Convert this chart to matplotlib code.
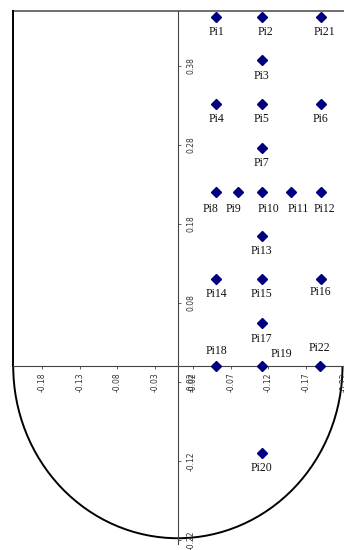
import numpy as np
import matplotlib.pyplot as plt
from matplotlib.patches import Arc

# point names and coordinates
names = ['Pi1', 'Pi2', 'Pi21', 'Pi3', 'Pi4', 'Pi5', 'Pi6', 'Pi7',
         'Pi8', 'Pi9', 'Pi10', 'Pi11', 'Pi12', 'Pi13', 'Pi14', 'Pi15',
         'Pi16', 'Pi17', 'Pi18', 'Pi19', 'Pi22', 'Pi20']
xs = [0.051, 0.111, 0.189, 0.111, 0.051, 0.111, 0.189, 0.111,
      0.051, 0.079, 0.111, 0.150, 0.189, 0.111, 0.051, 0.111,
      0.189, 0.111, 0.051, 0.111, 0.188, 0.111]
ys = [0.442, 0.442, 0.442, 0.387, 0.332, 0.332, 0.332, 0.276,
      0.220, 0.220, 0.220, 0.220, 0.220, 0.165, 0.110, 0.110,
      0.110, 0.054, 0.0, 0.0, 0.0, -0.110]

yticks = [0.38, 0.28, 0.18, 0.08, -0.02, -0.12, -0.22]
ytick_labels = ['0.38', '0.28', '0.18', '0.08', '-0.02', '-0.12', '-0.22']
xticks = [-0.18, -0.13, -0.08, -0.03, 0.02, 0.07, 0.12, 0.17, 0.22]
xtick_labels = ['-0.18', '-0.13', '-0.08', '-0.03',
                '-0.02', '-0.07', '-0.12', '-0.17', '-0.22']

radius = 0.218
top = 0.45

# label offsets in points (default: below the marker)
offsets = {'Pi18': (0, 11), 'Pi19': (14, 9), 'Pi22': (0, 13),
           'Pi8': (-4, -12), 'Pi9': (-3, -12), 'Pi10': (5, -12),
           'Pi11': (5, -12), 'Pi12': (3, -12), 'Pi2': (3, -11),
           'Pi21': (3, -11), 'Pi16': (0, -9.5)}

fig = plt.figure(figsize=(3.44, 5.5), dpi=100)
ax = fig.add_axes([0, 0, 1, 1])
ax.set_xlim(-0.2355, 0.2171)
ax.set_ylim(-0.2329, 0.4633)

# frame: rectangle top + semicircle bottom
ax.plot([-radius, 0.25], [top, top], color='#555555', lw=1.2)
ax.plot([-radius, -radius], [top, 0], color='black', lw=1.4)
ax.add_patch(Arc((0, 0), 2 * radius, 2 * radius, theta1=180, theta2=360,
                 color='black', lw=1.4))

ax.plot(xs, ys, 'D', color='#000080', ms=5.5, zorder=5)
for n, x, y in zip(names, xs, ys):
    dx, dy = offsets.get(n, (0, -11))
    ax.annotate(n, (x, y), xytext=(dx, dy), textcoords='offset points',
                ha='center', va='center', fontsize=8.5,
                family='Liberation Serif', color='#111111')

# axes through the origin
for s in ['top', 'left']:
    ax.spines[s].set_visible(False)
ax.spines['right'].set_position(('data', 0))
ax.spines['bottom'].set_position(('data', 0))
ax.spines['right'].set_bounds(-0.225, top)
ax.spines['bottom'].set_bounds(-radius, 0.25)
for s in ['right', 'bottom']:
    ax.spines[s].set_color('#444444')
    ax.spines[s].set_linewidth(0.8)
ax.yaxis.tick_right()
ax.set_yticks(yticks)
ax.set_yticklabels(ytick_labels, rotation=90, va='center')
ax.set_xticks(xticks)
ax.set_xticklabels(xtick_labels, rotation=90, ha='center')
ax.tick_params(labelsize=5.5, length=2.5, width=0.6, colors='#444444',
               pad=2, labelcolor='#333333')
ax.tick_params(axis='y', pad=4)

fig.savefig('out.png', dpi=100)
